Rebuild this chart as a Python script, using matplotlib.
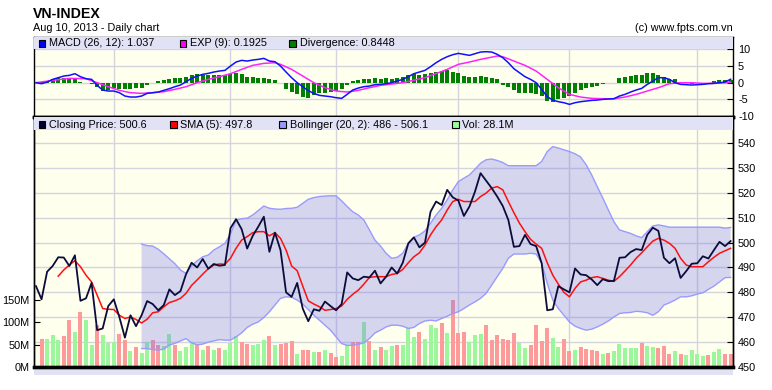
import matplotlib
matplotlib.use("Agg")
import matplotlib.pyplot as plt
from matplotlib.patches import Rectangle
from matplotlib.transforms import blended_transform_factory

plt.rcParams['font.family'] = ['Liberation Sans', 'DejaVu Sans']

# ---- data (index = trading day) ----
close = [482.5, 477.2, 488.3, 490.6, 494.1, 494.0, 490.6, 494.9, 476.6, 477.6,
         483.8, 464.8, 465.5, 474.5, 477.2, 470.1, 461.8, 470.8, 466.4, 470.8,
         476.5, 475.3, 472.8, 474.9, 481.2, 478.9, 480.5, 487.3, 491.9, 490.0,
         493.4, 489.5, 491.4, 490.7, 491.0, 505.8, 509.4, 505.4, 497.6, 502.7,
         506.4, 510.4, 496.3, 504.0, 497.0, 480.0, 478.2, 483.8, 473.5, 468.4,
         473.2, 472.6, 476.3, 474.5, 472.8, 475.3, 488.0, 485.6, 484.9, 486.3,
         486.0, 488.7, 483.6, 486.3, 490.0, 487.6, 491.9, 499.7, 502.1, 498.1,
         500.0, 512.4, 516.5, 515.1, 521.2, 518.2, 516.9, 510.7, 514.5, 520.5,
         527.9, 524.9, 521.9, 518.5, 514.7, 509.1, 498.3, 498.6, 503.1, 499.4,
         498.6, 491.7, 472.8, 473.2, 482.5, 481.2, 480.0, 489.6, 487.2, 486.9,
         485.2, 482.9, 485.3, 484.5, 484.6, 493.9, 494.1, 496.2, 497.4, 497.0,
         503.1, 506.0, 504.7, 493.9, 491.7, 493.7, 485.8, 488.5, 491.5, 491.7,
         494.5, 493.6, 497.0, 500.3, 498.6, 500.6]

sma_start = 4
sma5 = [486.5, 489.0, 491.0, 492.7, 490.3, 486.9, 484.2, 478.9, 473.5, 473.2,
        473.1, 470.8, 469.5, 470.1, 469.1, 467.7, 469.2, 471.8, 472.2, 474.2,
        475.9, 476.6, 477.6, 479.6, 482.8, 485.0, 487.3, 489.5, 491.0, 491.4,
        491.3, 493.7, 497.7, 501.0, 502.4, 504.0, 504.4, 504.4, 502.7, 504.0,
        501.7, 497.0, 490.6, 488.7, 482.5, 476.6, 475.3, 474.2, 472.8, 473.1,
        473.5, 474.5, 477.2, 479.2, 480.9, 483.3, 486.0, 486.3, 486.3, 486.3,
        487.2, 487.6, 489.2, 491.9, 494.3, 495.9, 499.0, 503.1, 506.4, 509.1,
        513.1, 516.5, 517.4, 516.5, 516.5, 516.5, 518.5, 519.9, 521.9, 522.5,
        521.2, 516.5, 512.0, 507.8, 504.4, 501.3, 499.4, 497.7, 491.9, 486.9,
        483.3, 480.0, 478.2, 481.6, 484.2, 484.9, 485.9, 486.3, 485.6, 484.9,
        484.4, 486.3, 488.6, 491.0, 493.7, 495.9, 498.3, 500.6, 501.7, 501.0,
        499.7, 497.7, 493.7, 491.0, 490.3, 490.3, 490.3, 492.3, 494.1, 495.7,
        496.7, 497.7]

boll_start = 19
boll_up = [499.4, 498.8, 498.6, 497.3, 495.5, 493.5, 491.5, 489.0, 487.6, 490.6,
           492.7, 494.3, 495.0, 497.0, 498.3, 499.7, 503.5, 509.0, 509.6, 509.8,
           511.1, 512.9, 514.7, 513.8, 513.5, 513.4, 513.7, 513.8, 514.2, 515.8,
           517.4, 518.1, 518.5, 518.7, 518.8, 518.8, 516.8, 514.5, 512.4, 511.1,
           509.1, 505.1, 501.0, 498.6, 495.7, 493.7, 494.1, 495.7, 499.7, 502.1,
           503.1, 504.7, 507.8, 511.1, 513.8, 517.2, 521.2, 524.5, 525.9, 527.2,
           529.5, 531.9, 533.3, 533.6, 533.0, 532.2, 530.9, 530.9, 530.9, 530.9,
           530.9, 530.9, 532.6, 536.6, 538.6, 538.0, 537.3, 536.6, 535.7, 534.4,
           531.3, 527.2, 522.5, 517.9, 513.1, 508.4, 505.1, 504.4, 503.7, 502.7,
           502.0, 504.4, 506.7, 507.1, 506.7, 506.2, 506.2, 506.2, 506.2, 506.2,
           506.2, 506.2, 506.2, 506.2, 506.2, 505.8, 506.1]
boll_lo = [457.4, 457.4, 457.0, 456.8, 457.2, 458.8, 459.5, 460.5, 461.4, 459.7,
           458.9, 459.2, 460.0, 460.5, 461.0, 460.8, 460.8, 462.1, 463.7, 465.9,
           467.2, 468.1, 469.9, 472.2, 474.9, 477.6, 478.2, 478.0, 476.9, 475.3,
           473.1, 470.8, 468.8, 466.8, 464.8, 462.1, 459.4, 458.7, 458.7, 459.1,
           459.7, 461.4, 463.7, 464.8, 466.1, 466.8, 466.8, 466.4, 465.5, 465.9,
           467.5, 468.5, 468.8, 468.5, 469.5, 470.4, 471.5, 472.2, 473.5, 474.9,
           476.2, 477.6, 479.6, 482.9, 486.3, 489.6, 493.7, 495.4, 495.4, 495.4,
           495.7, 495.4, 491.7, 483.6, 476.9, 473.5, 470.8, 468.1, 466.4, 465.5,
           464.8, 465.2, 466.1, 467.2, 468.5, 470.1, 471.5, 471.8, 471.9, 472.4,
           472.2, 471.8, 470.8, 472.2, 474.9, 475.8, 476.9, 478.2, 478.2, 478.6,
           479.3, 479.8, 481.2, 482.5, 484.2, 485.9, 486.0]

# volume in millions, from day 1 on; r = down bar, g = up bar
vol_start = 1
vol = [62.3, 62.3, 71.3, 60.0, 69.0, 105.0, 78.0, 123.0, 105.0, 48.8,
       93.8, 71.3, 54.0, 55.5, 73.6, 60.0, 36.0, 44.3, 31.5, 55.5,
       60.0, 48.8, 46.5, 73.6, 48.8, 36.0, 44.3, 55.5, 48.8, 37.5,
       46.5, 37.5, 43.7, 37.5, 54.0, 69.0, 55.5, 51.0, 48.8, 51.0,
       60.0, 69.0, 48.8, 51.0, 54.0, 57.8, 28.5, 37.5, 37.5, 33.0,
       33.0, 37.5, 30.8, 21.8, 24.0, 48.8, 55.5, 55.5, 100.6, 57.8,
       37.5, 44.5, 37.5, 46.5, 48.8, 48.8, 87.0, 66.8, 78.0, 62.3,
       93.8, 87.0, 98.3, 75.8, 150.0, 75.8, 78.0, 55.5, 71.3, 73.6,
       93.8, 60.0, 71.3, 62.3, 60.0, 75.8, 53.3, 42.0, 48.8, 93.8,
       57.8, 87.0, 64.5, 44.3, 62.3, 35.3, 37.5, 44.3, 39.8, 37.5,
       35.3, 28.5, 30.8, 35.3, 51.0, 42.0, 42.0, 42.0, 53.3, 46.5,
       44.3, 42.0, 46.5, 28.5, 35.3, 28.5, 26.3, 37.5, 28.5, 24.0,
       26.3, 33.0, 39.8, 28.5, 28.1]
vol_dir = ("rgggrrgrggrgggrrgrggrrggrgggrgrgrgggrrgggrgrrrgrrgrgrrggrrgrgr"
           "ggrgggrgggrgrrrgggrrrrrrggrrrrggrrgrrrrgrgggggrggrrrgrggggrggrr")

macd = [0.0, -0.3, 0.2, 1.0, 1.5, 2.0, 2.2, 2.7, 1.8, 1.2,
        1.0, -0.8, -2.2, -2.5, -2.5, -3.0, -4.0, -4.3, -4.3, -4.0,
        -3.2, -3.0, -2.8, -2.3, -1.8, -1.2, -0.7, 0.3, 1.3, 2.0,
        2.5, 2.8, 3.2, 3.5, 3.7, 5.0, 6.2, 6.7, 6.5, 6.8,
        7.0, 7.3, 6.5, 6.3, 5.0, 3.2, 1.5, 0.0, -1.2, -2.4,
        -3.2, -3.8, -4.0, -4.2, -4.5, -4.7, -3.5, -2.2, -1.6, -1.2,
        -1.0, -0.6, -0.5, -0.3, 0.0, 0.5, 1.0, 1.8, 2.7, 3.2,
        3.7, 4.8, 6.0, 7.0, 7.8, 8.4, 8.8, 8.5, 8.2, 8.7,
        9.2, 9.3, 9.2, 8.5, 7.5, 6.0, 4.2, 3.0, 1.8, 1.0,
        0.0, -2.0, -4.2, -5.2, -5.7, -6.0, -6.5, -6.0, -5.7, -5.5,
        -5.3, -5.2, -5.0, -4.9, -4.8, -4.0, -3.5, -2.8, -2.2, -1.7,
        -0.5, 0.5, 1.5, 1.5, 1.0, 0.0, -0.5, -0.6, -0.7, -0.6,
        -0.5, -0.3, -0.2, 0.0, 0.2, 1.04]
sig_idx = [0, 3, 6, 9, 11, 13, 15, 17, 19, 21, 23, 25, 27, 29, 31, 33, 35, 37,
           39, 41, 43, 44, 46, 48, 50, 52, 54, 56, 58, 60, 62, 66, 70, 74, 76,
           78, 80, 83, 84, 86, 88, 90, 92, 94, 96, 98, 100, 102, 104, 106, 108,
           110, 112, 114, 116, 118, 120, 122, 124, 125]
sig_val = [0.0, 0.7, 1.3, 1.2, 0.0, -1.2, -2.3, -3.0, -3.2, -3.0, -2.7, -2.0,
           -1.2, 0.0, 1.0, 1.8, 2.7, 4.0, 5.2, 5.8, 6.0, 5.5, 4.0, 2.0, 0.0,
           -1.5, -2.5, -2.8, -2.3, -1.5, -0.8, 0.0, 1.5, 4.0, 5.5, 6.2, 7.0,
           8.0, 7.8, 6.5, 5.2, 3.5, 1.0, -1.5, -3.5, -4.3, -4.7, -4.8, -4.8,
           -4.3, -3.5, -2.5, -1.5, -0.3, 0.0, 0.0, -0.2, -0.2, 0.0, 0.19]
div = [0.0, 0.2, 0.5, 1.0, 1.3, 1.3, 1.2, 1.3, 0.3, -0.2,
       -0.5, -1.3, -2.5, -2.3, -1.7, -1.8, -2.0, -2.0, -1.7, -1.5,
       -0.7, 0.0, 0.5, 0.7, 1.2, 1.3, 1.5, 1.8, 2.2, 2.5,
       2.3, 2.3, 2.3, 2.2, 2.3, 2.5, 3.0, 2.7, 1.8, 1.8,
       1.5, 1.5, 1.0, 0.7, 0.0, -2.0, -2.8, -3.5, -4.3, -4.5,
       -3.8, -3.2, -3.2, -2.8, -2.5, -2.0, -0.8, 0.5, 0.8, 1.0,
       1.2, 1.3, 1.2, 1.3, 1.0, 1.4, 1.8, 2.2, 2.5, 2.2,
       2.5, 2.8, 3.2, 3.5, 3.7, 3.3, 2.8, 2.0, 1.8, 1.8,
       2.0, 1.7, 1.5, 1.0, -0.7, -1.2, -2.3, -3.0, -3.2, -3.0,
       -3.5, -4.0, -5.5, -5.7, -5.0, -4.5, -4.0, -3.0, -2.3, -1.7,
       -1.3, -1.0, -0.5, 0.0, 0.0, 1.3, 1.8, 2.0, 2.2, 2.2,
       2.8, 3.0, 2.3, 1.8, 1.2, 1.2, 0.2, -0.2, -0.3, -0.2,
       0.0, 0.0, 0.5, 0.8, 0.8, 0.84]

month_starts = [14, 35, 54, 76, 96, 119]
price_ticks = [450, 460, 470, 480, 490, 500, 510, 520, 530, 540]
vol_ticks = [0, 50, 100, 150]
macd_ticks = [-10, -5, 0, 5, 10]

# ---- colours ----
BG = '#FFFFEE'
STRIP = '#E2E2F6'
GRID = '#D4D4DC'
FS = 7.8

W, H = 772, 390
fig = plt.figure(figsize=(W / 100, H / 100), dpi=100)
fig.patch.set_facecolor('white')


def fx(px):
    return px / W


def fy(py):
    return 1 - py / H


L, R = 33.5, 732.5
n = len(close)
xs = list(range(n))
xlim = (-0.45, 125.34)

# MACD panel
ax_m = fig.add_axes([fx(L), fy(116.7), (R - L) / W, (116.7 - 36.7) / H])
# price / volume panel
ax_v = fig.add_axes([fx(L), fy(367.0), (R - L) / W, (367.0 - 116.7) / H])
ax_p = ax_v.twinx()
ax_v.set_zorder(1)
ax_p.set_zorder(2)
ax_p.patch.set_visible(False)

for a in (ax_m, ax_v, ax_p):
    a.set_xlim(*xlim)
    a.set_xticks([])

ax_m.set_facecolor(BG)
ax_v.set_facecolor(BG)

# ---- MACD ----
ax_m.set_ylim(-10.2, 13.8)
for m in month_starts:
    ax_m.axvline(m, color=GRID, lw=1, zorder=0)
for t in macd_ticks[1:]:
    ax_m.axhline(t, color=GRID, lw=1, zorder=0)
ax_m.bar(xs, div, width=0.72, color='#007F00', zorder=2)
ax_m.plot(sig_idx, sig_val, color='#FF22FF', lw=1.1, zorder=3)
ax_m.plot(xs, macd, color='#1010FF', lw=1.1, zorder=4)
ax_m.add_patch(Rectangle((0, 1 - 12.6 / 80), 1, 12.6 / 80, transform=ax_m.transAxes,
                         facecolor=STRIP, edgecolor='none', zorder=5))
ax_m.yaxis.tick_right()
ax_m.set_yticks(macd_ticks)
ax_m.set_yticklabels([str(t) for t in macd_ticks])
ax_m.tick_params(axis='y', direction='in', length=4, pad=4, labelsize=FS)
ax_m.spines['bottom'].set_linewidth(2.4)
for s in ('left', 'right', 'top'):
    ax_m.spines[s].set_linewidth(1)

# ---- price / volume ----
ax_p.set_ylim(450, 550.6)
ax_v.set_ylim(0, 561.8)
hgrid = blended_transform_factory(ax_v.transAxes, ax_p.transData)
for t in price_ticks[1:]:
    ax_v.plot([0, 1], [t, t], transform=hgrid, color=GRID, lw=1, zorder=0)
for m in month_starts:
    ax_v.axvline(m, color=GRID, lw=1, zorder=0)

vx = list(range(vol_start, vol_start + len(vol)))
vcol = ['#FF9A9A' if d == 'r' else '#9CF79C' for d in vol_dir]
ax_v.bar(vx, vol, width=0.72, color=vcol, zorder=2)

bx = list(range(boll_start, boll_start + len(boll_up)))
ax_p.fill_between(bx, boll_lo, boll_up, facecolor='#7474EE', alpha=0.30,
                  edgecolor='none', zorder=1)
ax_p.plot(bx, boll_up, color='#9A9AFF', lw=1, zorder=2)
ax_p.plot(bx, boll_lo, color='#9A9AFF', lw=1, zorder=2)
sx = list(range(sma_start, sma_start + len(sma5)))
ax_p.plot(sx, sma5, color='#FF1010', lw=1.1, zorder=3)
ax_p.plot(xs, close, color='#0C0C3A', lw=1.3, zorder=4)
ax_p.add_patch(Rectangle((0, 1 - 13.7 / 250.3), 1, 13.7 / 250.3, transform=ax_p.transAxes,
                         facecolor=STRIP, edgecolor='none', zorder=5))

ax_p.set_yticks(price_ticks)
ax_p.set_yticklabels([str(t) for t in price_ticks])
ax_p.tick_params(axis='y', direction='in', length=4, pad=4, labelsize=FS)
ax_v.set_yticks(vol_ticks)
ax_v.set_yticklabels(['%dM' % t for t in vol_ticks])
ax_v.tick_params(axis='y', direction='in', length=4, pad=3, labelsize=FS)
for a in (ax_v, ax_p):
    a.spines['bottom'].set_linewidth(2.4)
    a.spines['top'].set_linewidth(2.4)
    a.spines['left'].set_linewidth(1)
    a.spines['right'].set_linewidth(1)


# ---- legends in the strips ----
def legend_item(x, y, color, label):
    fig.patches.append(Rectangle((fx(x), fy(y + 3.5)), 6.5 / W, 6.5 / H, transform=fig.transFigure,
                                 facecolor=color, edgecolor='black', lw=0.8, zorder=10))
    fig.text(fx(x + 10.5), fy(y), label, fontsize=FS, va='center', ha='left', zorder=10)


legend_item(38.5, 43.0, '#0000FF', 'MACD (26, 12): 1.037')
legend_item(179.5, 43.0, '#FF00FF', 'EXP (9): 0.1925')
legend_item(289.0, 43.0, '#008000', 'Divergence: 0.8448')
legend_item(38.5, 124.5, '#000033', 'Closing Price: 500.6')
legend_item(170.0, 124.5, '#FF0000', 'SMA (5): 497.8')
legend_item(279.0, 124.5, '#9999FF', 'Bollinger (20, 2): 486 - 506.1')
legend_item(452.0, 124.5, '#99FF99', 'Vol: 28.1M')

# ---- titles ----
fig.text(fx(33), fy(18.3), 'VN-INDEX', fontsize=10.2, fontweight='bold', va='baseline', ha='left')
fig.text(fx(33), fy(31), 'Aug 10, 2013 - Daily chart', fontsize=FS, va='baseline', ha='left')
fig.text(fx(732.5), fy(31), '(c) www.fpts.com.vn', fontsize=FS, va='baseline', ha='right')

# cut-off strip of the next panel at the bottom edge
fig.patches.append(Rectangle((fx(L), fy(375)), (R - L) / W, 7 / H, transform=fig.transFigure,
                             facecolor=STRIP, edgecolor='none', zorder=0))

fig.savefig('out.png', dpi=100, facecolor='white')
